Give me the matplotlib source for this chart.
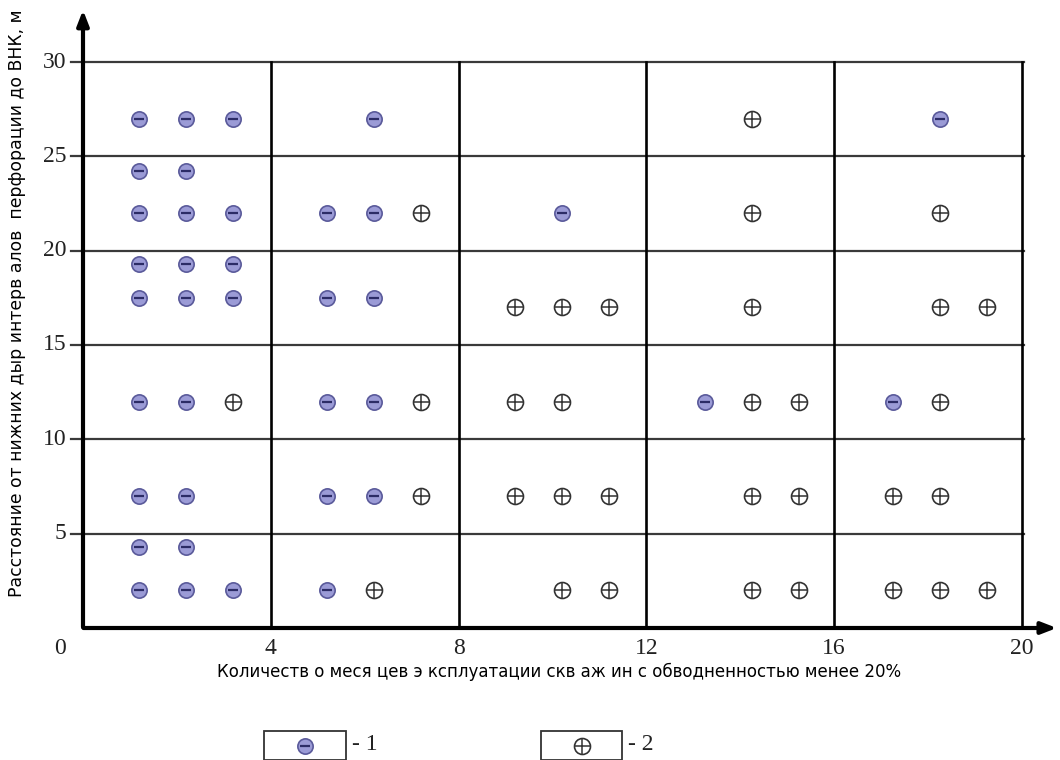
import matplotlib
matplotlib.use("Agg")
import matplotlib.pyplot as plt
from matplotlib.patches import Rectangle

# ---- data ----
# type 1 (blue circle with minus)
t1_x = [1.2, 2.2, 3.2, 1.2, 2.2, 1.2, 2.2, 3.2, 1.2, 2.2, 3.2, 1.2, 2.2, 3.2,
        1.2, 2.2, 1.2, 2.2, 1.2, 2.2, 1.2, 2.2, 3.2,
        6.2, 5.2, 6.2, 5.2, 6.2, 5.2, 6.2, 5.2, 6.2, 5.2,
        10.2, 13.25, 18.25, 17.25]
t1_y = [27, 27, 27, 24.2, 24.2, 22, 22, 22, 19.3, 19.3, 19.3, 17.5, 17.5, 17.5,
        12, 12, 7, 7, 4.3, 4.3, 2, 2, 2,
        27, 22, 22, 17.5, 17.5, 12, 12, 7, 7, 2,
        22, 12, 27, 12]
# type 2 (white circle with plus)
t2_x = [3.2, 7.2, 7.2, 7.2, 6.2,
        9.2, 10.2, 11.2, 9.2, 10.2, 9.2, 10.2, 11.2, 10.2, 11.2,
        14.25, 14.25, 14.25, 14.25, 15.25, 14.25, 15.25, 14.25, 15.25,
        18.25, 18.25, 19.25, 18.25, 17.25, 18.25, 17.25, 18.25, 19.25]
t2_y = [12, 22, 12, 7, 2,
        17, 17, 17, 12, 12, 7, 7, 7, 2, 2,
        27, 22, 17, 12, 12, 7, 7, 2, 2,
        22, 17, 17, 12, 7, 7, 2, 2, 2]

x_ticks = [0, 4, 8, 12, 16, 20]
y_ticks = [5, 10, 15, 20, 25, 30]
x_label = "Количеств о меся цев э ксплуатации скв аж ин с обводненностью менее 20%"
y_label = "Расстояние от нижних дыр интерв алов  перфорации до ВНК, м"
legend_labels = ["- 1", "- 2"]

W, H = 1060, 760
fig = plt.figure(figsize=(W / 100, H / 100), dpi=100)
ax = fig.add_axes([83 / W, 1 - 628 / H, 939 / W, 566 / H])
ax.set_xlim(0, 20)
ax.set_ylim(0, 30)
ax.axis("off")

serif = "Liberation Serif"
sans = "DejaVu Sans"

# horizontal grid lines
for yv in y_ticks:
    ax.plot([-0.25, 20.05], [yv, yv], color="#3a3a3a", lw=1.6, clip_on=False, zorder=1)
    ax.text(-0.35, yv, str(yv), ha="right", va="center", fontsize=17,
            family=serif, color="#222222")
# vertical grid lines
for xv in x_ticks[1:]:
    ax.plot([xv, xv], [0, 30], color="black", lw=1.9, clip_on=False, zorder=1)
    ax.text(xv, -0.55, str(xv), ha="center", va="top", fontsize=17,
            family=serif, color="#222222")
ax.text(-0.49, -0.55, "0", ha="center", va="top", fontsize=17, family=serif, color="#222222")

# axes arrows
ax.annotate("", xy=(0, 32.9), xytext=(0, -0.1),
            arrowprops=dict(arrowstyle="-|>,head_length=0.9,head_width=0.35",
                            color="black", lw=3), annotation_clip=False, zorder=3)
ax.annotate("", xy=(20.8, 0), xytext=(-0.05, 0),
            arrowprops=dict(arrowstyle="-|>,head_length=0.9,head_width=0.35",
                            color="black", lw=3), annotation_clip=False, zorder=3)

# markers type 1
ax.plot(t1_x, t1_y, "o", ms=11, mfc="#9b9bd6", mec="#5a5a9a", mew=1.2,
        ls="none", zorder=4, clip_on=False)
ax.plot(t1_x, t1_y, "_", ms=7.5, mec="#2c2c66", mew=1.6, ls="none", zorder=5, clip_on=False)
# markers type 2
ax.plot(t2_x, t2_y, "o", ms=11.5, mfc="white", mec="#333333", mew=1.2,
        ls="none", zorder=4, clip_on=False)
ax.plot(t2_x, t2_y, "+", ms=11.5, mec="#333333", mew=1.1, ls="none", zorder=5, clip_on=False)

# axis labels
fig.text(559 / W, 1 - 672 / H, x_label, ha="center", va="center",
         fontsize=12, family=sans, color="black")
fig.text(17 / W, 1 - 303 / H, y_label, ha="center", va="center", rotation=90,
         fontsize=12.4, family=sans, color="black")

# legend boxes
for (x0, x1), lab, kind in [((264, 346), legend_labels[0], 1), ((541, 622), legend_labels[1], 2)]:
    fig.patches.append(Rectangle((x0 / W, 0), (x1 - x0) / W, (H - 731) / H,
                                 transform=fig.transFigure, fill=False,
                                 ec="#333333", lw=1.3))
    cx, cy = (x0 + x1) / 2 / W, 1 - 746 / H
    if kind == 1:
        fig.lines.append(plt.Line2D([cx], [cy], marker="o", ms=11, mfc="#9b9bd6",
                                    mec="#5a5a9a", mew=1.2, transform=fig.transFigure))
        fig.lines.append(plt.Line2D([cx], [cy], marker="_", ms=7.5, mec="#2c2c66",
                                    mew=1.6, transform=fig.transFigure))
    else:
        fig.lines.append(plt.Line2D([cx], [cy], marker="o", ms=11.5, mfc="white",
                                    mec="#333333", mew=1.2, transform=fig.transFigure))
        fig.lines.append(plt.Line2D([cx], [cy], marker="+", ms=11.5, mec="#333333",
                                    mew=1.1, transform=fig.transFigure))
    fig.text((x1 + 6) / W, 1 - 745 / H, lab, ha="left", va="center",
             fontsize=17, family=serif, color="#222222")

fig.savefig("out.png", dpi=100)
